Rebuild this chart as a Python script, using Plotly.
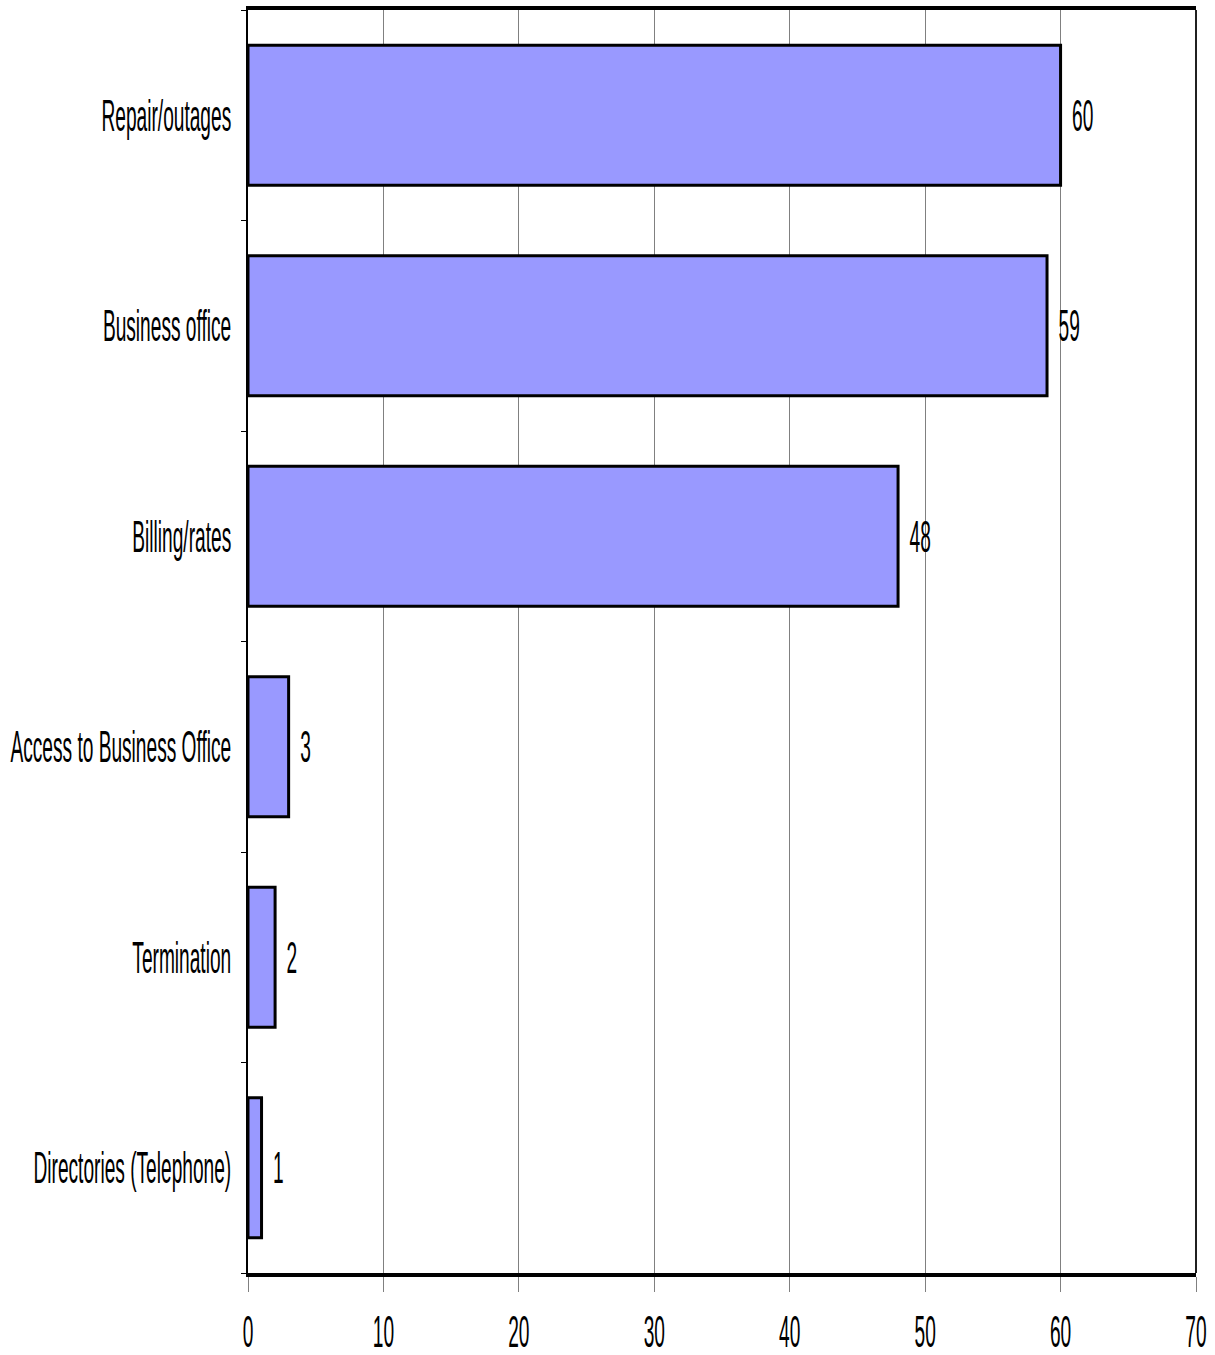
import plotly.graph_objects as go

categories = ["Directories (Telephone)", "Termination", "Access to Business Office",
              "Billing/rates", "Business office", "Repair/outages"]
values = [1, 2, 3, 48, 59, 60]
x_ticks = [0, 10, 20, 30, 40, 50, 60, 70]

FONT = "Liberation Sans, Arial, sans-serif"
FS = 44

fig = go.Figure()
fig.add_trace(go.Bar(
    y=categories, x=values, orientation="h",
    marker=dict(color="#9999FF", line=dict(color="black", width=3)),
    text=[str(v) for v in values], textposition="outside",
    textfont=dict(family=FONT, size=FS, color="black"),
    constraintext="none",
    cliponaxis=False,
))

fig.update_layout(
    width=1215, height=1355,
    margin=dict(l=248, r=19, t=10, b=82, autoexpand=False),
    paper_bgcolor="white", plot_bgcolor="white",
    bargap=0.335,
    showlegend=False,
    font=dict(family=FONT, size=FS, color="black"),
    xaxis=dict(
        range=[0, 70], tickvals=x_ticks, ticktext=[str(t) for t in x_ticks],
        showgrid=True, gridcolor="#808080", gridwidth=1,
        ticks="outside", ticklen=15, tickcolor="#808080", tickwidth=1,
        showline=True, linecolor="black", linewidth=4, mirror=True,
        zeroline=False, tickfont=dict(family=FONT, size=FS),
        automargin=False, ticklabelstandoff=2, ticklabeloverflow="allow",
    ),
    yaxis=dict(
        showline=True, linecolor="black", linewidth=2,
        ticks="outside", tickson="boundaries", ticklen=5, tickcolor="black",
        showgrid=False, tickfont=dict(family=FONT, size=FS),
        automargin=False, ticklabelstandoff=6, ticklabeloverflow="allow",
    ),
)
fig.add_shape(type="line", xref="paper", yref="paper", x0=1, x1=1, y0=0, y1=1,
              line=dict(color="#202020", width=2))

post = """
document.body.style.margin = '0';
document.body.style.padding = '0';
var gd = document.getElementById('{plot_id}');
var SX = 0.435;
function squeeze() {
  var els = gd.querySelectorAll('g.xtick text, g.ytick text, text.bartext');
  els.forEach(function(el) {
    if (el.getAttribute('data-sq')) return;
    var b = el.getBBox();
    var t = el.getAttribute('transform') || '';
    var tr;
    if (el.classList.contains('bartext')) {
      var L = b.x;
      tr = ' translate(' + (L + 8.5) + ',0) scale(' + SX + ',1) translate(' + (-L) + ',0)';
    } else {
      var a = el.getAttribute('text-anchor') || window.getComputedStyle(el).textAnchor || 'start';
      var cx = b.x + b.width / 2;
      if (a === 'end') cx = b.x + b.width;
      else if (a === 'start') cx = b.x;
      tr = ' translate(' + cx + ',0) scale(' + SX + ',1) translate(' + (-cx) + ',0)';
    }
    el.setAttribute('transform', t + tr);
    el.setAttribute('data-sq', '1');
  });
}
squeeze();
setTimeout(squeeze, 50);
"""

fig.write_html("out.html", post_script=post, config={"staticPlot": True})
